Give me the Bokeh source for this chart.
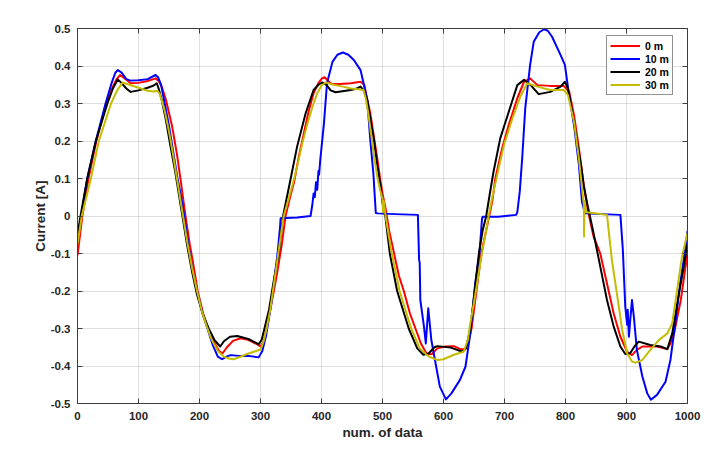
from bokeh.plotting import figure
from bokeh.models import Range1d, LinearAxis, FixedTicker, CustomJSTickFormatter
from bokeh.embed import file_html
from bokeh.resources import INLINE

# ---------------- data ----------------
x_ticks = [0, 100, 200, 300, 400, 500, 600, 700, 800, 900, 1000]
y_ticks = [-0.5, -0.4, -0.3, -0.2, -0.1, 0.0, 0.1, 0.2, 0.3, 0.4, 0.5]
series_names = ["0 m", "10 m", "20 m", "30 m"]

red_x = [0, 8, 18, 31, 47, 58, 64, 70, 78, 87, 100, 115, 128, 133, 138, 145, 155, 163, 170, 177,
         184, 190, 197, 206, 215, 225, 232, 238, 245, 255, 267, 280, 292, 300, 305, 312, 319, 327, 335, 341,
         350, 355, 363, 371, 379, 387, 395, 401, 405, 410, 416, 430, 448, 464, 470, 475, 480, 486, 491, 496,
         500, 505, 511, 519, 527, 535, 545, 554, 563, 573, 581, 590, 603, 617, 628, 636, 640, 646, 654, 662,
         669, 675, 680, 685, 696, 707, 721, 732, 742, 754, 775, 797, 806, 814, 822, 830, 836, 846, 851, 857,
         868, 879, 890, 901, 909, 917, 926, 950, 967, 972, 978, 989, 1000]
red_y = [-0.105, 0.0, 0.1, 0.2, 0.3, 0.345, 0.365, 0.376, 0.366, 0.354, 0.355, 0.36, 0.367, 0.36, 0.345, 0.31, 0.24, 0.165, 0.085, 0.0,
         -0.075, -0.13, -0.2, -0.26, -0.305, -0.34, -0.36, -0.366, -0.35, -0.333, -0.326, -0.33, -0.34, -0.348, -0.335, -0.285, -0.225, -0.155, -0.075, 0.0,
         0.06, 0.09, 0.16, 0.22, 0.28, 0.327, 0.355, 0.367, 0.37, 0.362, 0.353, 0.352, 0.354, 0.358, 0.35, 0.31, 0.274, 0.21, 0.158, 0.1,
         0.06, 0.02, -0.04, -0.1, -0.16, -0.2, -0.26, -0.3, -0.34, -0.369, -0.368, -0.353, -0.348, -0.347, -0.355, -0.355, -0.34, -0.3, -0.2, -0.1,
         -0.046, 0.0, 0.04, 0.1, 0.18, 0.243, 0.314, 0.358, 0.367, 0.349, 0.347, 0.347, 0.332, 0.269, 0.18, 0.082, 0.02, -0.055, -0.075, -0.1,
         -0.18, -0.26, -0.322, -0.362, -0.371, -0.357, -0.348, -0.348, -0.355, -0.34, -0.313, -0.224, -0.1]

blue_x = [0, 6, 16, 30, 46, 56, 62, 66, 72, 80, 87, 100, 115, 128, 132, 137, 143, 150, 157, 164,
          170, 175, 182, 189, 196, 205, 213, 222, 230, 237, 244, 251, 265, 281, 297, 303, 309, 314, 319, 324,
          328, 332, 333, 360, 382, 385, 387, 389, 391, 393, 395, 396, 398, 404, 409, 418, 426, 435, 444, 453, 464, 469,
          475, 480, 485, 489, 492, 520, 558, 560, 561, 562, 568, 571, 575, 580, 586, 594, 604, 613, 627, 636,
          644, 652, 659, 663, 664, 690, 719, 721, 725, 729, 734, 742, 748, 757, 765, 771, 778, 792, 799, 805, 814,
          822, 827, 832, 860, 890, 894, 898, 901, 902, 904, 906, 909, 912, 917, 926, 934, 940, 950, 964, 972,
          980, 988, 997, 1000]
blue_y = [-0.065, 0.0, 0.1, 0.2, 0.3, 0.355, 0.382, 0.389, 0.383, 0.365, 0.361, 0.362, 0.365, 0.376, 0.37, 0.35, 0.3, 0.24, 0.17, 0.1,
          0.05, 0.0, -0.08, -0.15, -0.2, -0.26, -0.3, -0.345, -0.375, -0.382, -0.375, -0.371, -0.373, -0.373, -0.377, -0.36, -0.32, -0.27, -0.22, -0.15,
          -0.1, -0.03, -0.006, -0.004, 0.0, 0.03, 0.06, 0.05, 0.09, 0.07, 0.12, 0.11, 0.15, 0.247, 0.354, 0.411, 0.43, 0.436, 0.43, 0.416, 0.389, 0.354,
          0.309, 0.203, 0.114, 0.008, 0.007, 0.005, 0.003, -0.117, -0.125, -0.224, -0.295, -0.34, -0.246, -0.33, -0.384, -0.455, -0.489, -0.473, -0.437, -0.402,
          -0.313, -0.18, -0.1, -0.01, -0.002, -0.002, 0.003, 0.01, 0.065, 0.154, 0.287, 0.403, 0.465, 0.49, 0.498, 0.494, 0.478, 0.429, 0.403, 0.332, 0.242,
          0.136, 0.038, 0.007, 0.005, 0.003, -0.09, -0.242, -0.29, -0.25, -0.322, -0.28, -0.224, -0.268, -0.357, -0.428, -0.473, -0.49, -0.477, -0.442, -0.384,
          -0.286, -0.18, -0.082, -0.04]

black_x = [0, 5, 16, 30, 49, 58, 66, 72, 80, 87, 100, 115, 125, 130, 133, 138, 145, 152, 160, 166,
           172, 180, 188, 196, 205, 215, 225, 234, 240, 250, 262, 280, 297, 302, 308, 314, 322, 330, 337, 342,
           349, 360, 374, 387, 395, 401, 408, 415, 423, 448, 458, 464, 469, 475, 480, 486, 491, 497, 500, 505,
           512, 524, 543, 557, 567, 576, 585, 590, 612, 631, 637, 644, 651, 658, 664, 670, 676, 682, 693, 707,
           721, 732, 743, 756, 775, 792, 799, 804, 808, 814, 819, 825, 830, 836, 842, 846, 857, 868, 879, 890,
           898, 906, 913, 920, 939, 956, 967, 975, 986, 994, 1000]
black_y = [-0.05, 0.0, 0.1, 0.2, 0.3, 0.34, 0.364, 0.355, 0.34, 0.331, 0.335, 0.342, 0.348, 0.354, 0.34, 0.31, 0.255, 0.19, 0.12, 0.06,
           0.0, -0.08, -0.15, -0.21, -0.26, -0.3, -0.332, -0.348, -0.334, -0.322, -0.32, -0.328, -0.342, -0.33, -0.29, -0.25, -0.17, -0.1, 0.0, 0.04,
           0.096, 0.185, 0.274, 0.336, 0.35, 0.356, 0.35, 0.335, 0.33, 0.336, 0.34, 0.345, 0.335, 0.31, 0.26, 0.203, 0.14, 0.078, 0.035, -0.005,
           -0.1, -0.2, -0.3, -0.353, -0.37, -0.366, -0.35, -0.347, -0.351, -0.362, -0.352, -0.3, -0.2, -0.1, -0.04, 0.0, 0.06, 0.118, 0.207, 0.278,
           0.349, 0.363, 0.349, 0.325, 0.331, 0.345, 0.358, 0.34, 0.305, 0.25, 0.198, 0.14, 0.08, 0.03, -0.015, -0.046, -0.135, -0.224, -0.295, -0.348,
           -0.368, -0.366, -0.348, -0.335, -0.344, -0.348, -0.355, -0.313, -0.206, -0.135, -0.075]

yellow_x = [0, 7, 22, 35, 55, 65, 74, 85, 100, 115, 125, 131, 135, 143, 150, 157, 164, 173, 180, 188,
            196, 204, 212, 220, 230, 240, 248, 256, 266, 278, 289, 300, 305, 310, 316, 323, 330, 338, 345, 352,
            360, 368, 377, 385, 393, 400, 407, 420, 435, 448, 460, 469, 473, 477, 482, 487, 492, 496, 500, 501,
            502, 505, 514, 528, 547, 561, 576, 590, 600, 617, 633, 640, 644, 650, 655, 662, 669, 674, 680, 688,
            699, 713, 726, 737, 754, 775, 797, 804, 814, 822, 828, 830, 830.5, 831, 834, 845, 868, 876, 885, 893,
            901, 909, 915, 926, 939, 953, 967, 975, 983, 991, 1000]
yellow_y = [-0.075, 0.0, 0.1, 0.2, 0.3, 0.335, 0.356, 0.35, 0.342, 0.334, 0.332, 0.334, 0.325, 0.28, 0.225, 0.16, 0.09, 0.0, -0.07, -0.14,
            -0.2, -0.255, -0.295, -0.33, -0.36, -0.375, -0.38, -0.382, -0.376, -0.368, -0.362, -0.356, -0.335, -0.3, -0.25, -0.17, -0.09, 0.0, 0.04, 0.08,
            0.131, 0.19, 0.247, 0.29, 0.327, 0.348, 0.356, 0.35, 0.345, 0.34, 0.338, 0.336, 0.31, 0.27, 0.21, 0.15, 0.1, 0.07, 0.045, 0.01,
            0.04, 0.0, -0.09, -0.2, -0.3, -0.353, -0.375, -0.384, -0.382, -0.37, -0.362, -0.33, -0.286, -0.23, -0.18, -0.11, -0.046, 0.0, 0.05, 0.109,
            0.189, 0.26, 0.318, 0.354, 0.345, 0.336, 0.336, 0.323, 0.251, 0.153, 0.06, 0.03, -0.055, 0.04, 0.01, 0.008, 0.003, -0.117, -0.215, -0.304,
            -0.366, -0.388, -0.391, -0.384, -0.357, -0.331, -0.313, -0.286, -0.197, -0.108, -0.045]

# ---------------- styling ----------------
FONT = "Liberation Sans"
AX = "#262626"
LINE = "#3c3c3c"
colors = ["#ff0000", "#0000ff", "#000000", "#c4bc00"]

p = figure(width=720, height=448, output_backend="svg", toolbar_location=None,
           x_range=Range1d(0, 1000), y_range=Range1d(-0.5, 0.5),
           min_border_left=77, min_border_right=33, min_border_top=28, min_border_bottom=45)
p.background_fill_color = "white"
p.border_fill_color = "white"
p.outline_line_color = LINE
p.outline_line_width = 1

xt = FixedTicker(ticks=x_ticks)
yt = FixedTicker(ticks=y_ticks)
yfmt = CustomJSTickFormatter(code="return Math.abs(tick) < 1e-9 ? '0' : tick.toFixed(1);")

for ax in (p.xaxis[0], p.yaxis[0]):
    ax.major_tick_in = 5
    ax.major_tick_out = 0
    ax.minor_tick_line_color = None
    ax.axis_line_color = LINE
    ax.major_tick_line_color = LINE
    ax.major_label_text_font = FONT
    ax.major_label_text_font_style = "bold"
    ax.major_label_text_font_size = "11.5px"
    ax.major_label_text_color = AX
    ax.axis_label_text_font = FONT
    ax.axis_label_text_font_style = "bold"
    ax.axis_label_text_font_size = "13.5px"
    ax.axis_label_text_color = AX

p.xaxis[0].major_label_standoff = 8
p.yaxis[0].major_label_standoff = 7
p.xaxis[0].ticker = xt
p.yaxis[0].ticker = yt
p.yaxis[0].formatter = yfmt
p.xaxis[0].axis_label = "num. of data"
p.yaxis[0].axis_label = "Current [A]"
p.xaxis[0].axis_label_standoff = 2
p.yaxis[0].axis_label_standoff = 0

p.xgrid[0].ticker = xt
p.ygrid[0].ticker = yt
p.grid.grid_line_color = AX
p.grid.grid_line_alpha = 0.15
p.grid.grid_line_width = 1

# box ticks on top and right (no labels)
blank = CustomJSTickFormatter(code="return '';")
top = LinearAxis(ticker=FixedTicker(ticks=x_ticks), formatter=blank,
                 major_tick_in=5, major_tick_out=0, minor_tick_line_color=None,
                 axis_line_color=LINE, major_tick_line_color=LINE, major_label_standoff=0)
right = LinearAxis(ticker=FixedTicker(ticks=y_ticks), formatter=blank,
                   major_tick_in=5, major_tick_out=0, minor_tick_line_color=None,
                   axis_line_color=LINE, major_tick_line_color=LINE, major_label_standoff=0)
p.add_layout(top, "above")
p.add_layout(right, "right")

xs = [red_x, blue_x, black_x, yellow_x]
ys = [red_y, blue_y, black_y, yellow_y]
for xv, yv, c, name in zip(xs, ys, colors, series_names):
    p.line(xv, yv, line_color=c, line_width=2, line_join="round", legend_label=name)

lg = p.legend[0]
lg.location = (529, 308)
lg.border_line_color = AX
lg.border_line_width = 1
lg.background_fill_color = "white"
lg.background_fill_alpha = 1
lg.padding = 3
lg.spacing = 0
lg.margin = 0
lg.glyph_width = 30
lg.glyph_height = 13
lg.label_height = 13
lg.label_standoff = 5
lg.label_text_font = FONT
lg.label_text_font_style = "bold"
lg.label_text_font_size = "10.5px"
lg.label_text_color = "#000000"

open("out.html", "w").write(file_html(p, INLINE))
